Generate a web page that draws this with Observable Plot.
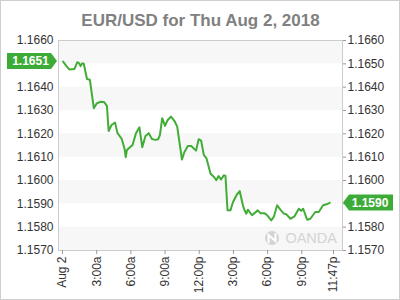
<!DOCTYPE html>
<html>
<head>
<meta charset="utf-8">
<script src="https://cdn.jsdelivr.net/npm/d3@7"></script>
<script src="https://cdn.jsdelivr.net/npm/@observablehq/plot@0.6"></script>
<style>
  html, body { margin: 0; padding: 0; background: #fff; }
  #wrap { position: relative; width: 400px; height: 300px; }
  #wrap svg { display: block; }
  #border { position: absolute; left: 0; top: 0; width: 400px; height: 300px; box-sizing: border-box; border: 1px solid #cfcfcf; pointer-events: none; }
</style>
</head>
<body>
<div id="wrap"><div id="border"></div></div>
<script>
const title = "EUR/USD for Thu Aug 2, 2018";

const times = ["00:03","00:21","00:36","01:03","01:18","01:27","01:35","01:43","01:52","02:09","02:24","02:45","03:00","03:18","03:39","03:54","04:03","04:18","04:37","04:49","05:12","05:27","05:33","05:39","05:49","06:09","06:27","06:45","07:00","07:17","07:34","07:51","08:09","08:24","08:33","08:45","09:00","09:12","09:31","09:49","10:04","10:29","10:42","11:00","11:18","11:43","11:57","12:10","12:24","12:38","12:59","13:20","13:30","13:42","13:55","14:09","14:18","14:29","14:44","14:58","15:16","15:33","15:51","16:01","16:08","16:16","16:38","17:08","17:22","17:43","17:58","18:19","18:33","18:50","19:07","19:25","19:39","20:00","20:21","20:44","20:56","21:07","21:28","21:45","22:11","22:29","22:52","23:10","23:27"];

const rates = [1.16510,1.16490,1.16476,1.16478,1.16507,1.16503,1.16490,1.16502,1.16500,1.16435,1.16432,1.16310,1.16330,1.16337,1.16336,1.16320,1.16212,1.16238,1.16248,1.16204,1.16178,1.16135,1.16100,1.16130,1.16138,1.16152,1.16203,1.16228,1.16143,1.16191,1.16203,1.16178,1.16174,1.16177,1.16195,1.16267,1.16234,1.16257,1.16274,1.16256,1.16231,1.16090,1.16122,1.16148,1.16148,1.16128,1.16177,1.16171,1.16110,1.16095,1.16030,1.16013,1.16001,1.16019,1.16004,1.16022,1.16020,1.15872,1.15872,1.15908,1.15937,1.15955,1.15890,1.15868,1.15858,1.15875,1.15851,1.15872,1.15860,1.15860,1.15851,1.15829,1.15845,1.15894,1.15875,1.15858,1.15855,1.15836,1.15846,1.15879,1.15870,1.15879,1.15832,1.15836,1.15865,1.15865,1.15894,1.15898,1.15904];

const xTickTimes = ["00:00","03:00","06:00","09:00","12:00","15:00","18:00","21:00","23:47"];
const xTickLabels = ["Aug 2","3:00a","6:00a","9:00a","12:00p","3:00p","6:00p","9:00p","11:47p"];
const yTicks = [1.1570,1.1580,1.1590,1.1600,1.1610,1.1620,1.1630,1.1640,1.1650,1.1660];
const bandLow = [1.1570,1.1590,1.1610,1.1630,1.1650];
const bandHigh = [1.1580,1.1600,1.1620,1.1640,1.1660];
const xDomain = [-0.35, 24.57];
const yDomain = [1.1570, 1.1660];

const toHours = (s) => { const [h, m] = s.split(":").map(Number); return h + m / 60; };
const data = times.map((t, i) => ({hour: toHours(t), rate: rates[i]}));
const bands = bandLow.map((lo, i) => ({lo, hi: bandHigh[i]}));
const xTicks = xTickTimes.map(toHours);
const fmt = d3.format(".4f");
const green = "#3dab37";

function badge(value, side) {
  return (index, scales, values, dims) => {
    const y = scales.y(value);
    const g = d3.create("svg:g");
    let pts, tx;
    if (side === "left") {
      pts = [[7, y - 8], [51, y - 8], [57, y], [51, y + 8], [7, y + 8]];
      tx = 30.5;
    } else {
      pts = [[343, y], [349, y - 8], [393, y - 8], [393, y + 8], [349, y + 8]];
      tx = 370;
    }
    g.append("path").attr("d", "M" + pts.map(p => p.join(",")).join("L") + "Z").attr("fill", green);
    g.append("text").attr("x", tx).attr("y", y).attr("dy", "0.36em")
      .attr("text-anchor", "middle").attr("fill", "#fff")
      .attr("font-weight", "bold").attr("font-size", 12)
      .attr("font-family", "'Liberation Sans', Arial, sans-serif")
      .text(fmt(value));
    return g.node();
  };
}

function watermark() {
  return (index, scales, values, dims) => {
    const g = d3.create("svg:g");
    const x = dims.width - dims.marginRight, y = dims.height - dims.marginBottom;
    const cx = x - 70, cy = y - 12;
    g.append("circle").attr("cx", cx).attr("cy", cy).attr("r", 7).attr("fill", "#d4d4d4");
    g.append("path").attr("d", `M${cx-3.5},${cy+5}L${cx-3.5},${cy-3}L${cx+3.5},${cy+3}L${cx+3.5},${cy-5}`)
      .attr("stroke", "#fff").attr("stroke-width", 2).attr("fill", "none");
    g.append("text").attr("x", x - 5).attr("y", cy).attr("dy", "0.36em")
      .attr("text-anchor", "end").attr("fill", "#d4d4d4")
      .attr("font-size", 14.5).attr("font-family", "'Liberation Sans', Arial, sans-serif")
      .text("OANDA");
    return g.node();
  };
}

const chart = Plot.plot({
  width: 400,
  height: 300,
  marginTop: 40,
  marginBottom: 50,
  marginLeft: 58,
  marginRight: 58,
  style: {fontFamily: "'Liberation Sans', Arial, sans-serif", fontSize: "12px", color: "#333", background: "transparent"},
  x: {domain: xDomain, axis: null},
  y: {domain: yDomain, axis: null},
  marks: [
    Plot.rect(bands, {y1: "lo", y2: "hi", fill: "#f7f7f7"}),
    watermark(),
    Plot.frame({stroke: "#cccccc"}),
    Plot.axisY({anchor: "left", ticks: yTicks, tickFormat: fmt, tickSize: 0, tickPadding: 5, label: null, fill: "#333"}),
    Plot.axisY({anchor: "right", ticks: yTicks, tickFormat: fmt, tickSize: 3, tickPadding: 2, label: null, stroke: "#999", fill: "#333"}),
    Plot.axisX({ticks: xTicks, tickFormat: (d, i) => xTickLabels[i], tickRotate: -90, tickSize: 4, tickPadding: 2, label: null, stroke: "#999", fill: "#333"}),
    Plot.line(data, {x: "hour", y: "rate", stroke: "#41ad36", strokeWidth: 2, strokeLinejoin: "round"}),
    Plot.text([title], {frameAnchor: "top", dy: -27, fontSize: 17, fontWeight: "bold", fill: "#808080"}),
    badge(rates[0], "left"),
    badge(rates[rates.length - 1], "right")
  ]
});
document.getElementById("wrap").prepend(chart);
</script>
</body>
</html>
